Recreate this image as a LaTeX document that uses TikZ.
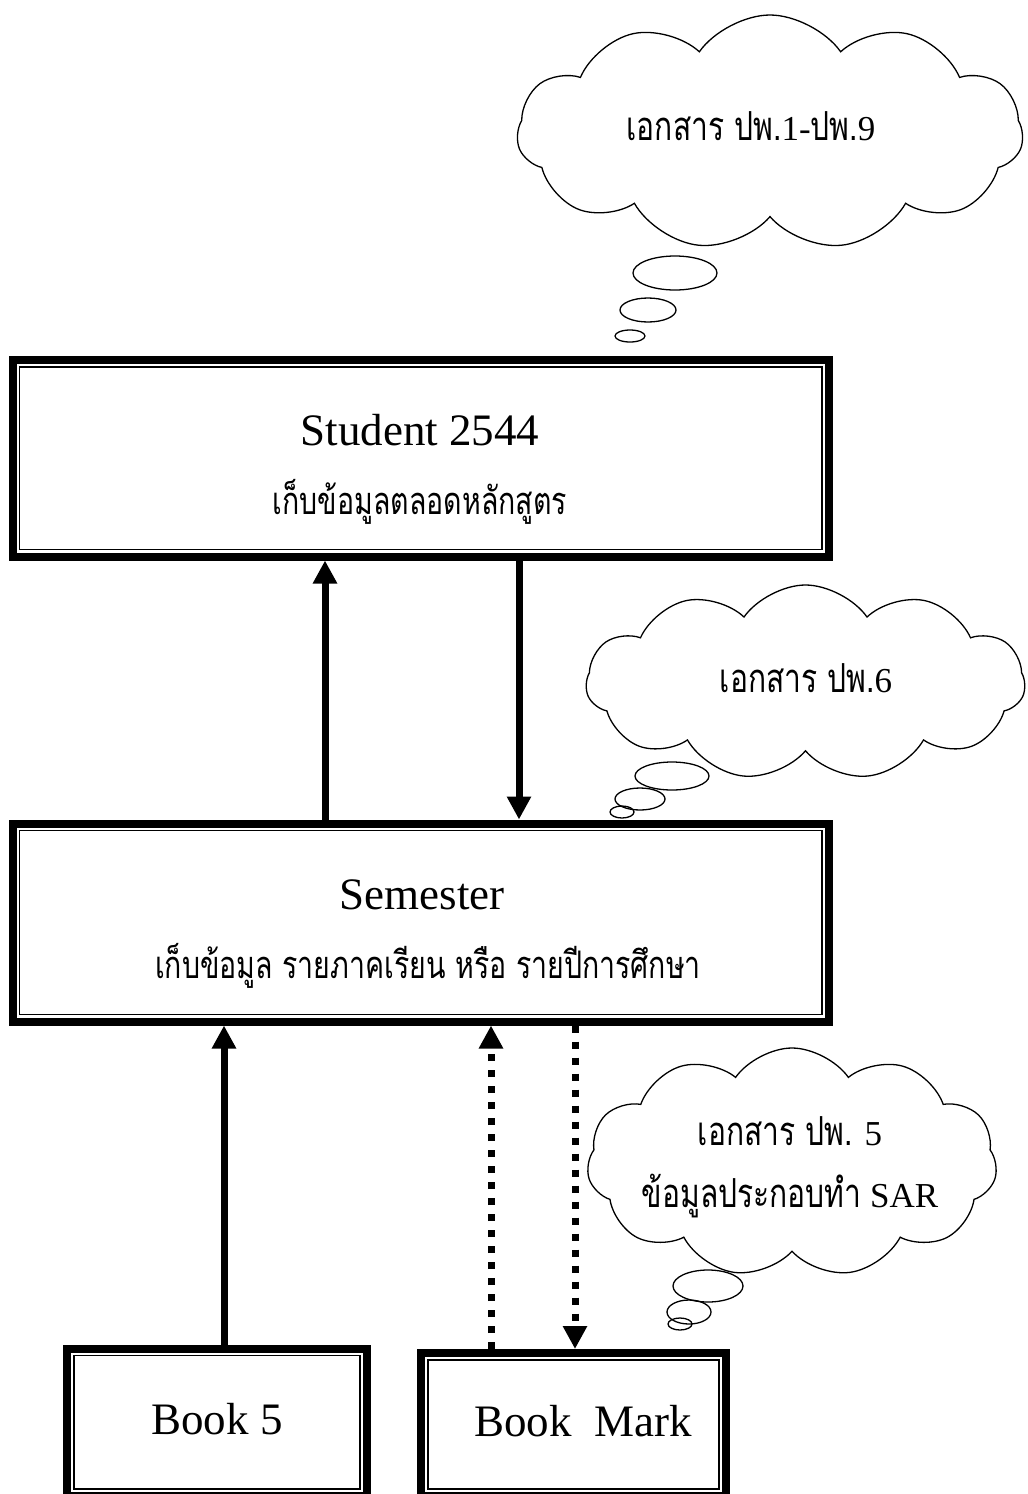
\documentclass[tikz,border=0pt]{standalone}
\usepackage{fontspec}
\setmainfont{Liberation Serif}
\newfontfamily\thaifont[Script=Thai,FakeStretch=0.75]{Loma}
\newcommand\thtxt[1]{{\fontsize{40}{46}\selectfont\thaifont #1}}
\usetikzlibrary{calc,arrows.meta,shapes.symbols,shapes.geometric}

\begin{document}
\begin{tikzpicture}[x=1pt,y=-1pt,
  box/.style={draw,line width=8pt,inner sep=0pt,
    path picture={\draw[line width=1.5pt]
      ([shift={(7pt,-7pt)}]path picture bounding box.north west) rectangle
      ([shift={(-7pt,7pt)}]path picture bounding box.south east);}},
  big/.style={anchor=base,font=\fontsize{45}{54}\selectfont},
  thai/.style={anchor=base,font=\fontsize{38}{46}\selectfont\thaifont},
  note/.style={anchor=base,font=\fontsize{35}{42}\selectfont},
  thought/.style={cloud,cloud puffs=11,cloud puff arc=110,draw,line width=1.3pt,inner sep=0pt},
  bubble/.style={ellipse,draw,line width=1.3pt,inner sep=0pt},
  flow/.style={line width=7pt,-{Triangle[width=23pt,length=23pt]}},
  dotflow/.style={flow,dash pattern=on 7pt off 9pt}]
\useasboundingbox (0,0) rectangle (1028,1494);
\clip (0,0) rectangle (1028,1494);

\node[box,minimum width=816.5pt,minimum height=196.5pt] (student) at (420.75,458.25) {};
\node[box,minimum width=816.5pt,minimum height=198pt] (semester) at (420.75,922.5) {};
\node[box,minimum width=300pt,minimum height=147.5pt] (bookfive) at (217,1422.25) {};
\node[box,minimum width=305pt,minimum height=143pt] (bookmark) at (573.5,1424.5) {};

\node[big] (stutitle) at (420,445) {Student 2544};
\node[thai] (stunote) at (420,514) {เก็บข้อมูลตลอดหลักสูตร};
\node[big] (semtitle) at (422,909) {Semester};
\node[thai] (semnote) at (428,978) {เก็บข้อมูล รายภาคเรียน หรือ รายปีการศึกษา};
\node[big] (bookfivetext) at (217,1434) {Book 5};
\node[big] (bookmarktext) at (583,1436) {Book\ \ Mark};

\node[thought,minimum width=506pt,minimum height=235pt] (cloudall) at (770,132.5) {};
\node[note] (cloudalltext) at (751,140) {\thtxt{เอกสาร ปพ.}1-\thtxt{ปพ.}9};
\node[bubble,minimum width=84pt,minimum height=34pt] (cloudallb) at (675,273) {};
\node[bubble,minimum width=56pt,minimum height=24pt] (cloudallc) at (648,310) {};
\node[bubble,minimum width=30pt,minimum height=12pt] (cloudalld) at (630,336) {};

\node[thought,minimum width=439pt,minimum height=195pt] (cloudsix) at (805.5,682.5) {};
\node[note] (cloudsixtext) at (806,692) {\thtxt{เอกสาร ปพ.}6};
\node[bubble,minimum width=74pt,minimum height=28pt] (cloudsixb) at (672,776) {};
\node[bubble,minimum width=50pt,minimum height=22pt] (cloudsixc) at (640,799) {};
\node[bubble,minimum width=24pt,minimum height=12pt] (cloudsixd) at (622,812) {};

\node[thought,minimum width=410pt,minimum height=229pt] (cloudfive) at (792,1162.5) {};
\node[note] (cloudfivetext) at (790,1145) {\thtxt{เอกสาร ปพ.} 5};
\node[note] (cloudsartext) at (790,1207) {\thtxt{ข้อมูลประกอบทำ} SAR};
\node[bubble,minimum width=70pt,minimum height=32pt] (cloudfiveb) at (708,1286) {};
\node[bubble,minimum width=44pt,minimum height=24pt] (cloudfivec) at (689,1312) {};
\node[bubble,minimum width=24pt,minimum height=12pt] (cloudfived) at (680,1324) {};

\draw[flow] ($(semester.north)+(-95.75,0)$) -- ($(student.south)+(-95.75,0)$);
\draw[flow] ($(student.south)+(98.25,0)$) -- ($(semester.north)+(98.25,0)$);
\draw[flow] ($(bookfive.north)+(7,0)$) -- ($(semester.south)+(-196.75,0)$);
\draw[dotflow] ($(bookmark.north)+(-82.5,0)$) -- ($(semester.south)+(70.25,0)$);
\draw[dotflow] ($(semester.south)+(154.25,0)$) -- ($(bookmark.north)+(1.5,0)$);

\end{tikzpicture}
\end{document}
